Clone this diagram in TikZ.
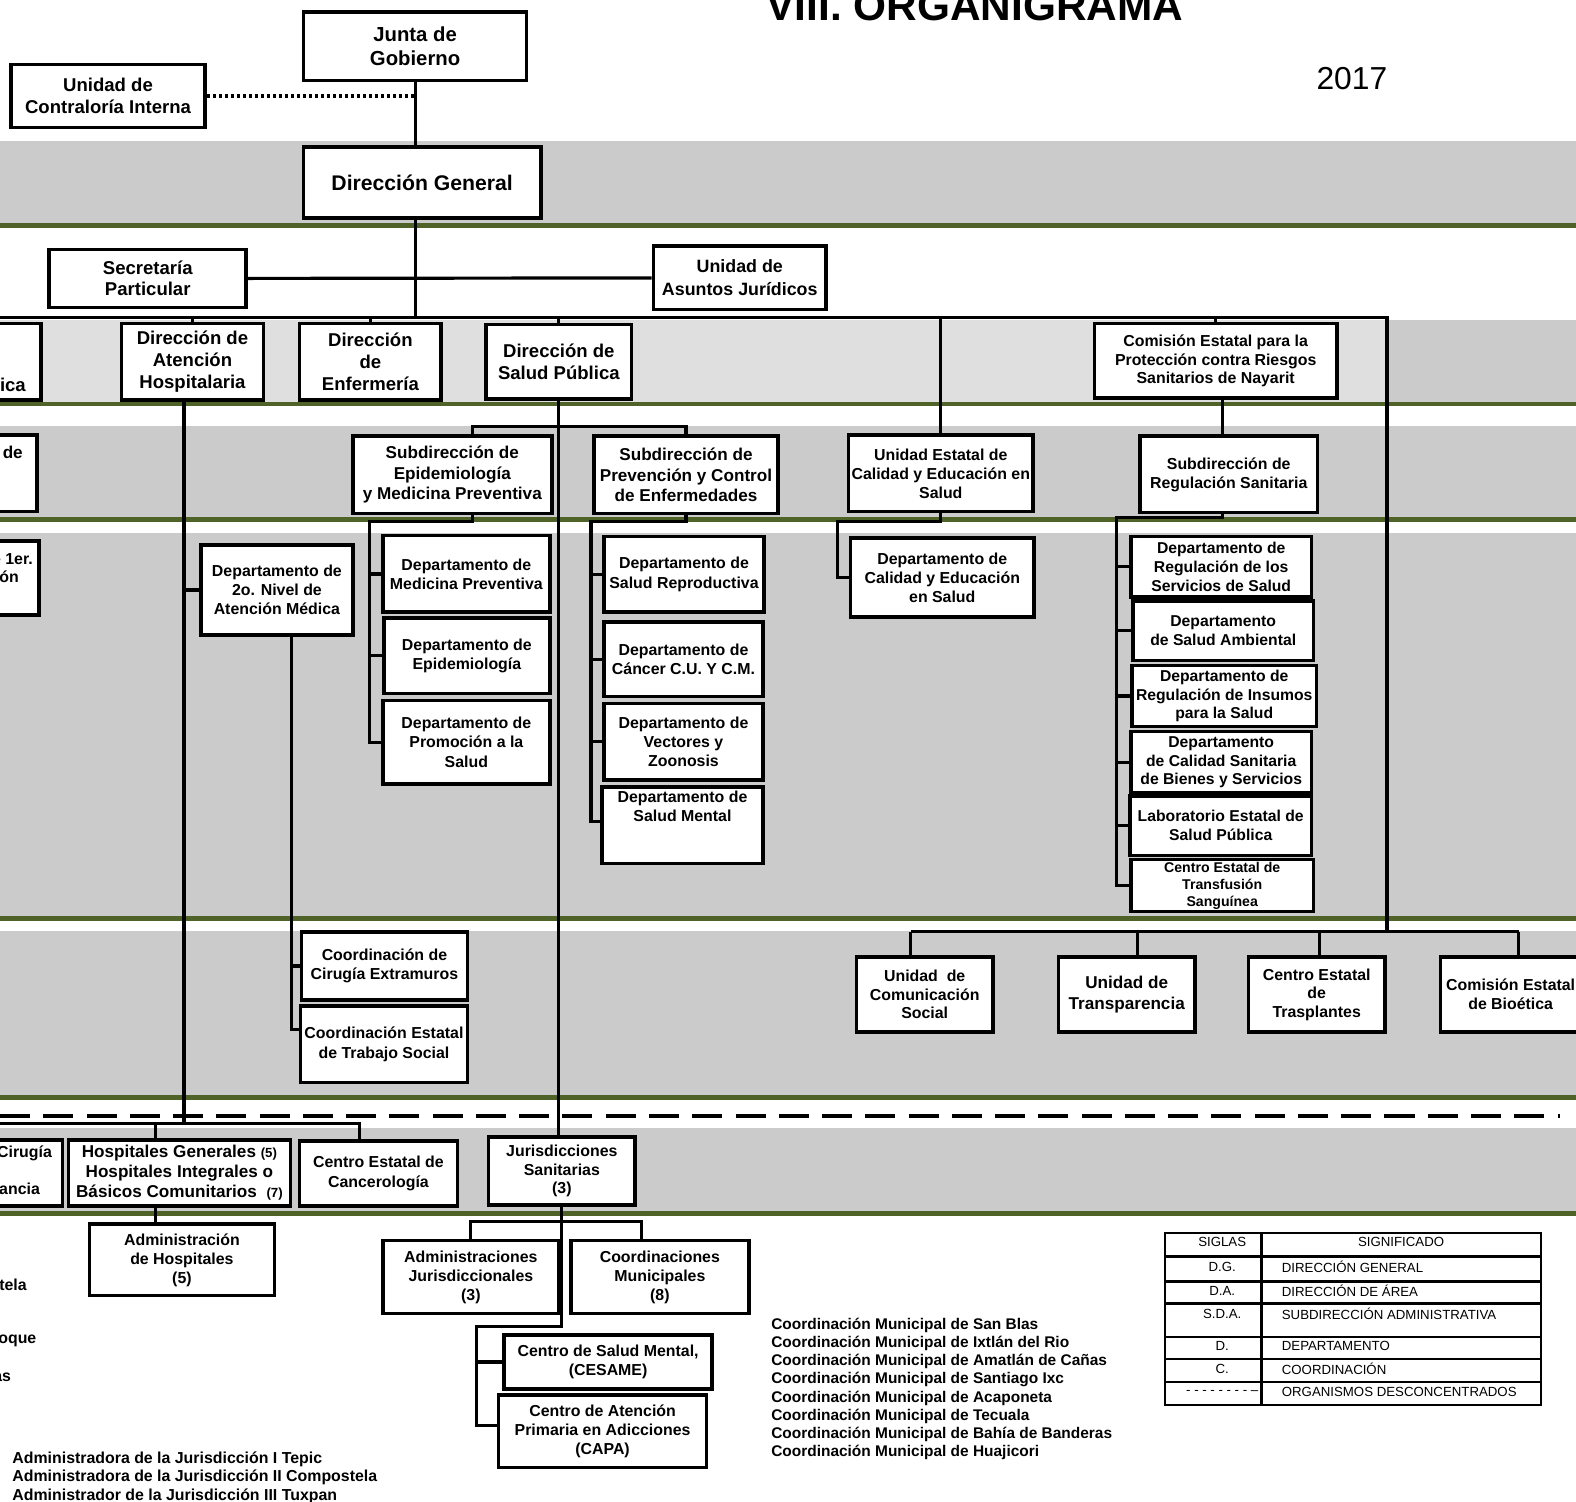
\documentclass[tikz,border=0pt]{standalone}
\usepackage{fontspec}
\setmainfont{Liberation Sans}
\definecolor{bandgray}{HTML}{CBCBCB}
\definecolor{bandlight}{HTML}{DFDFDF}
\definecolor{rulegreen}{HTML}{4F6228}
\pgfdeclarelayer{bg}
\pgfsetlayers{bg,main}
\tikzset{
  box/.style={draw,line width=2pt,fill=white,align=center,inner sep=0pt,font=\bfseries\fontsize{9}{10.8}\selectfont},
  dirbox/.style={box,font=\bfseries\fontsize{10.5}{12.3}\selectfont},
  subbox/.style={box,font=\bfseries\fontsize{9.7}{11.6}\selectfont},
  regbox/.style={box,font=\bfseries\fontsize{8.9}{10.6}\selectfont},
  wh/.style 2 args={minimum width=#1*0.02cm,minimum height=#2*0.02cm},
  conn/.style={line width=1.8pt},
  greenrule/.style={draw=rulegreen,line width=2.6pt},
  txt/.style={inner sep=0pt,font=\bfseries\fontsize{9}{10.8}\selectfont},
  tabtext/.style={inner sep=0pt,font=\fontsize{7.5}{9}\selectfont},
}
\begin{document}
\begin{tikzpicture}[x=0.02cm,y=-0.02cm]
  \useasboundingbox (0,0) rectangle (1568,1494);
  % bands
  \begin{pgfonlayer}{bg}
    \fill[bandgray] (0,140) rectangle (1568,222);
    \fill[bandlight] (0,318) rectangle (1380,400);
    \fill[bandgray] (1380,318) rectangle (1568,400);
    \fill[bandgray] (0,424) rectangle (1568,515);
    \fill[bandgray] (0,530) rectangle (1568,912);
    \fill[bandgray] (0,926) rectangle (1568,1090);
    \fill[bandgray] (0,1122) rectangle (1568,1205);
    \foreach \y in {224.5,402,517,914,1092,1207.5} {
      \draw[greenrule] (0,\y) -- (1568,\y);
    }
    \draw[line width=2.2pt,dash pattern=on 17pt off 7.5pt] (0,1110) -- (1552,1110);
  \end{pgfonlayer}

  \node[inner sep=0pt,anchor=base,font=\bfseries\fontsize{24}{28}\selectfont] (title) at (970,20) {VIII. ORGANIGRAMA};
  \node[inner sep=0pt,anchor=base,font=\fontsize{18}{21}\selectfont] (year) at (1345,89) {2017};

  % top
  \node[box,wh={222}{68},font=\bfseries\fontsize{11.5}{13.6}\selectfont] (junta) at (413,46) {Junta de\\Gobierno};
  \node[dirbox,wh={193}{63}] (contra) at (107.5,95.5) {Unidad de\\Contraloría Interna};
  \node[box,wh={236}{71},font=\bfseries\fontsize{12}{14}\selectfont] (dg) at (420,181.5) {Dirección General};
  \node[dirbox,wh={196}{58}] (secp) at (147,277) {Secretaría\\Particular};
  \node[box,wh={172}{63},font=\bfseries\fontsize{10.1}{13}\selectfont] (uaj) at (736,276.5) {Unidad de\\Asuntos Jurídicos};

  % direcciones
  \node[box,wh={60}{76}] (lefta) at (11,360) {};
  \node[txt,anchor=east,font=\bfseries\fontsize{10.5}{12}\selectfont] (leftatxt) at (26,383) {ica};
  \node[dirbox,wh={141}{76}] (dah) at (191.5,360) {Dirección de\\Atención\\Hospitalaria};
  \node[dirbox,wh={141}{76}] (denf) at (368.5,360) {Dirección\\de\\Enfermería};
  \node[dirbox,wh={145}{74}] (dsp) at (556,360) {Dirección de\\Salud Pública};
  \node[box,wh={241}{74},font=\bfseries\fontsize{9}{10.6}\selectfont] (coepris) at (1209.5,359) {Comisión Estatal para la\\Protección contra Riesgos\\Sanitarios de Nayarit};

  % subdirecciones
  \node[box,wh={52}{76}] (leftb) at (11,471) {};
  \node[txt,anchor=east,font=\bfseries\fontsize{9.7}{11}\selectfont] (leftbtxt) at (23,450) {de};
  \node[subbox,wh={198}{77}] (sepi) at (450,472.5) {Subdirección de\\Epidemiología\\y Medicina Preventiva};
  \node[subbox,wh={183}{77}] (sprev) at (682.5,472.5) {Subdirección de\\Prevención y Control\\de Enfermedades};
  \node[box,wh={184}{76}] (uecal) at (936,471) {Unidad Estatal de\\Calidad y Educación en\\Salud};
  \node[box,wh={177}{76}] (sreg) at (1222.5,472) {Subdirección de\\Regulación Sanitaria};

  % departamentos
  \node[box,wh={50}{74}] (leftc) at (14,575) {};
  \node[txt,anchor=east] (leftctxt) at (33,556) {e 1er.};
  \node[txt,anchor=east] (leftctxtb) at (19,574) {ón};
  \node[box,wh={151}{90}] (d2n) at (275.5,587) {Departamento de\\2o. Nivel de\\Atención Médica};
  \node[box,wh={166}{76}] (dmp) at (464,571) {Departamento de\\Medicina Preventiva};
  \node[box,wh={165}{75}] (depi) at (464.5,652.5) {Departamento de\\Epidemiología};
  \node[box,wh={166}{83}] (dpro) at (464,738.5) {Departamento de\\Promoción a la\\Salud};
  \node[box,wh={159}{75}] (dsr) at (680.5,571.5) {Departamento de\\Salud Reproductiva};
  \node[box,wh={158}{74}] (dcan) at (680,656) {Departamento de\\Cáncer C.U. Y C.M.};
  \node[box,wh={158}{76}] (dvz) at (680,738) {Departamento de\\Vectores y\\Zoonosis};
  \node[box,wh={160}{76}] (dsm) at (679,821) {Departamento de\\Salud Mental\\\mbox{}\\\mbox{}};
  \node[box,wh={183}{79}] (dcal) at (937.5,574.5) {Departamento de\\Calidad y Educación\\en Salud};
  \node[regbox,wh={180}{60}] (drs) at (1215,564) {Departamento de\\Regulación de los\\Servicios de Salud};
  \node[regbox,wh={180}{59}] (dsa) at (1217,627.5) {Departamento\\de Salud Ambiental};
  \node[regbox,wh={184}{61}] (dri) at (1218,692.5) {Departamento de\\Regulación de Insumos\\para la Salud};
  \node[regbox,wh={180}{61}] (dcs) at (1215,758.5) {Departamento\\de Calidad Sanitaria\\de Bienes y Servicios};
  \node[regbox,wh={181}{59}] (lesp) at (1214.5,821.5) {Laboratorio Estatal de\\Salud Pública};
  \node[box,wh={182}{52},font=\bfseries\fontsize{8}{9.6}\selectfont] (cets) at (1216,881) {Centro Estatal de\\Transfusión\\Sanguínea};

  % coordinaciones y unidades
  \node[box,wh={165}{68}] (cce) at (382.5,961) {Coordinación de\\Cirugía Extramuros};
  \node[box,wh={166}{76}] (cts) at (382,1039) {Coordinación Estatal\\de Trabajo Social};
  \node[box,wh={136}{75},font=\bfseries\fontsize{9}{10.5}\selectfont] (ucs) at (920,989.5) {Unidad~~de\\Comunicación\\Social};
  \node[box,wh={136}{75},font=\bfseries\fontsize{9.7}{12}\selectfont] (utr) at (1121,989.5) {Unidad de\\Transparencia};
  \node[box,wh={136}{75},font=\bfseries\fontsize{9}{10.5}\selectfont] (cetr) at (1310,989.5) {Centro Estatal\\de\\Trasplantes};
  \node[box,wh={140}{75}] (cbio) at (1503,989.5) {Comisión Estatal\\de Bioética};

  % organismos desconcentrados
  \node[box,wh={72}{66}] (leftd) at (26,1167) {};
  \node[txt,anchor=east] (leftdtxt) at (52,1147) {Cirugía};
  \node[txt,anchor=east] (leftdtxtb) at (40,1183) {ancia};
  \node[box,wh={221}{66},font=\bfseries\fontsize{9.7}{11.3}\selectfont] (hosp) at (178.5,1167) {Hospitales Generales {\fontsize{7.5}{9}\selectfont(5)}\\Hospitales Integrales o\\Básicos Comunitarios~ {\fontsize{7.5}{9}\selectfont(7)}};
  \node[box,wh={157}{65},font=\bfseries\fontsize{9}{11.3}\selectfont] (cecan) at (376.5,1167.5) {Centro Estatal de\\Cancerología};
  \node[box,wh={146}{68},font=\bfseries\fontsize{9}{10.3}\selectfont] (jur) at (559,1165) {Jurisdicciones\\Sanitarias\\(3)};
  \node[box,wh={184}{71}] (admh) at (181,1253.5) {Administración\\de Hospitales\\(5)};
  \node[box,wh={175}{73}] (adj) at (468.5,1270.5) {Administraciones\\Jurisdiccionales\\(3)};
  \node[box,wh={177}{73}] (cmun) at (656.5,1270.5) {Coordinaciones\\Municipales\\(8)};
  \node[box,wh={207}{54}] (cesame) at (605,1355) {Centro de Salud Mental,\\(CESAME)};
  \node[box,wh={207}{72}] (capa) at (599.5,1424) {Centro de Atención\\Primaria en Adicciones\\(CAPA)};

  % listas
  \node[txt,anchor=west] (tela) at (-1,1278) {tela};
  \node[txt,anchor=west] (oque) at (-2,1334) {oque};
  \node[txt,anchor=west] (as) at (-7,1370) {as};
  \node[txt,anchor=north west,align=left,font=\bfseries\fontsize{8.75}{10.3}\selectfont] (coordlist) at (767,1311) {Coordinación Municipal de San Blas\\Coordinación Municipal de Ixtlán del Rio\\Coordinación Municipal de Amatlán de Cañas\\Coordinación Municipal de Santiago Ixc\\Coordinación Municipal de Acaponeta\\Coordinación Municipal de Tecuala\\Coordinación Municipal de Bahía de Banderas\\Coordinación Municipal de Huajicori};
  \node[txt,anchor=north west,align=left,font=\bfseries\fontsize{9}{10.5}\selectfont] (adminlist) at (12,1444) {Administradora de la Jurisdicción I Tepic\\Administradora de la Jurisdicción II Compostela\\Administrador de la Jurisdicción III Tuxpan};

  % tabla de siglas
  \draw[line width=1.3pt] (1159,1227) rectangle (1533,1398);
  \foreach \y in {1250,1275,1297,1330,1352,1375} {
    \draw[line width=1.3pt] (1159,\y) -- (1533,\y);
  }
  \draw[line width=1.3pt] (1255,1227) -- (1255,1398);
  \node[tabtext] (siglas) at (1216,1236) {SIGLAS};
  \node[tabtext] (signif) at (1394,1236) {SIGNIFICADO};
  \foreach \y/\s/\t [count=\i] in {1260/D.G./DIRECCIÓN GENERAL,1284/D.A./DIRECCIÓN DE ÁREA,1307/S.D.A./SUBDIRECCIÓN ADMINISTRATIVA,1339/D./DEPARTAMENTO,1362/C./COORDINACIÓN,1385/- - - - - - - - --/ORGANISMOS DESCONCENTRADOS} {
    \node[tabtext] (sg\i) at (1216,\y) {\s};
    \node[tabtext,anchor=west] (sd\i) at (1275,\y) {\t};
  }

  % conectores
  \draw[line width=2.2pt,dash pattern=on 1.8pt off 1.6pt] (contra.east) -- (contra.east -| junta.south);
  \draw[conn] (junta.south) -- (junta.south |- dg.north);
  \coordinate (busl) at (0,316);
  \coordinate (busr) at (1380,316);
  \coordinate (buse) at (1380,927);
  \draw[conn] (junta.south |- dg.south) -- (junta.south |- busl);
  \draw[conn] (secp.east) -- (uaj.west);
  \draw[conn] (busl) -- (busr) -- (buse);
  \foreach \n in {dah,denf,dsp,coepris} {
    \draw[conn] (\n.north) -- (\n.north |- busl);
  }
  \draw[conn] (busl -| uecal.north) -- (uecal.north);

  \coordinate (hv) at (183,1118);
  \coordinate (hbl) at (0,1118);
  \coordinate (hbr) at (358,1118);
  \coordinate (hb) at (155,1118);
  \draw[conn] (hv |- dah.south) -- (hv);
  \draw[conn] (hv |- d2n.west) -- (d2n.west);
  \draw[conn] (hbl) -- (hbr) -- (hbr |- cecan.north);
  \draw[conn] (hb) -- (hb |- hosp.north);
  \draw[conn] (hb |- hosp.south) -- (hb |- admh.north);

  \coordinate (cv) at (290,1024);
  \draw[conn] (cv |- d2n.south) -- (cv) -- (cv -| cts.west);
  \draw[conn] (cv |- cce.west) -- (cce.west);

  \draw[conn] (dsp.south) -- (dsp.south |- jur.north);
  \coordinate (sb) at (470,424);
  \draw[conn] (sb |- sepi.north) -- (sb) -- (sb -| sprev.north) -- (sprev.north);
  \coordinate (ev) at (368,519);
  \draw[conn] (sb |- sepi.south) -- (sb |- ev) -- (ev) -- (ev |- dpro.west) -- (dpro.west);
  \foreach \n in {dmp,depi} {
    \draw[conn] (ev |- \n.west) -- (\n.west);
  }
  \coordinate (pv) at (588,519);
  \coordinate (pvb) at (588,817);
  \draw[conn] (sprev.south) -- (sprev.south |- pv) -- (pv) -- (pvb) -- (pvb -| dsm.west);
  \foreach \n in {dsr,dcan,dvz} {
    \draw[conn] (pv |- \n.west) -- (\n.west);
  }
  \coordinate (qv) at (833,519);
  \draw[conn] (uecal.south) -- (uecal.south |- qv) -- (qv) -- (qv |- dcal.west) -- (dcal.west);

  \coordinate (rv) at (1216,515);
  \coordinate (rvl) at (1111,515);
  \draw[conn] (rv |- coepris.south) -- (rv |- sreg.north);
  \draw[conn] (rv |- sreg.south) -- (rv) -- (rvl) -- (rvl |- cets.west) -- (cets.west);
  \foreach \n in {drs,dsa,dri,dcs,lesp} {
    \draw[conn] (rvl |- \n.west) -- (\n.west);
  }

  \coordinate (eb1) at (906,927);
  \coordinate (eb4) at (1511,927);
  \draw[conn] (eb1) -- (eb4);
  \foreach \x/\n in {906/ucs,1132/utr,1313/cetr,1511/cbio} {
    \coordinate (d\n) at (\x,927);
    \draw[conn] (d\n) -- (d\n |- \n.north);
  }

  \coordinate (jb) at (559,1215);
  \coordinate (jbl) at (468,1215);
  \coordinate (jbr) at (638,1215);
  \coordinate (jc) at (559,1320);
  \coordinate (jcl) at (474,1320);
  \coordinate (jcb) at (474,1418);
  \draw[conn] (jur.south) -- (jb) -- (jc) -- (jcl) -- (jcb) -- (jcb -| capa.west);
  \draw[conn] (jbl |- adj.north) -- (jbl) -- (jbr) -- (jbr |- cmun.north);
  \draw[conn] (jcl |- cesame.west) -- (cesame.west);
\end{tikzpicture}
\end{document}
